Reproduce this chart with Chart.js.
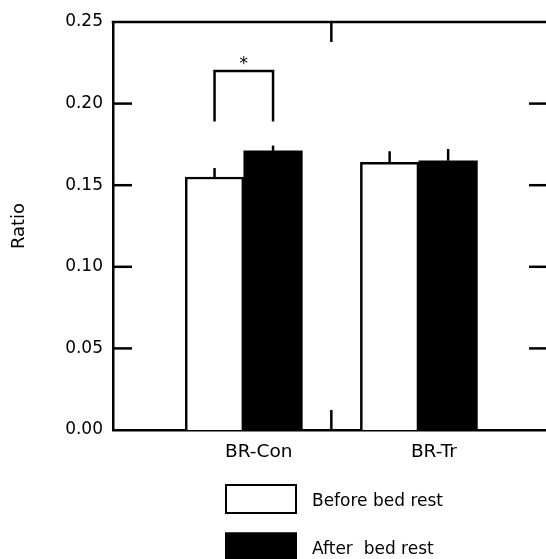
<!DOCTYPE html>
<html>
<head>
<meta charset="utf-8">
<script src="https://cdn.jsdelivr.net/npm/chart.js@4.4.1/dist/chart.umd.min.js"></script>
<style>
  html, body { margin: 0; padding: 0; background: #ffffff; }
  #wrap { width: 546px; height: 559px; position: relative; }
</style>
</head>
<body>
<div id="wrap"><canvas id="c" width="546" height="559"></canvas></div>
<script>
// ---- data ----
const categories = ['BR-Con', 'BR-Tr'];
const seriesNames = ['Before bed rest', 'After  bed rest'];
const beforeValues = [0.155, 0.164];
const afterValues = [0.171, 0.165];
const beforeErrors = [0.0055, 0.0068];
const afterErrors = [0.0033, 0.0072];
const yTickValues = [0.00, 0.05, 0.10, 0.15, 0.20, 0.25];
const yTitle = 'Ratio';
// significance bracket (BR-Con: before vs after)
const sigCategoryIndex = 0;
const sigBracketLow = 0.189;
const sigBracketHigh = 0.220;
const sigMarker = '*';
const sigMarkerValue = 0.2215;

const FONT = 'DejaVu Sans';

function toPoints(vals) { return vals.map((v, i) => ({ x: i, y: v })); }

const decorPlugin = {
  id: 'decor',
  afterDatasetsDraw(chart) {
    const { ctx, chartArea: a, scales: { x, y } } = chart;
    const line = (x1, y1, x2, y2, w) => {
      ctx.lineWidth = w || 2.5;
      ctx.beginPath(); ctx.moveTo(x1, y1); ctx.lineTo(x2, y2); ctx.stroke();
    };
    ctx.save();
    ctx.strokeStyle = '#000';
    ctx.lineCap = 'butt';
    // top frame line
    line(a.left - 1.25, a.top, a.right, a.top);
    // inward ticks left and right
    yTickValues.forEach(v => {
      if (v <= y.min || v >= y.max) return;
      const py = y.getPixelForValue(v);
      line(a.left, py, a.left + 19, py);
      line(a.right - 17, py, a.right, py);
    });
    // category divider ticks
    for (let i = 0; i < categories.length - 1; i++) {
      const px = x.getPixelForValue(i + 0.5);
      line(px, a.top, px, a.top + 20);
      line(px, a.bottom - 20, px, a.bottom);
    }
    // error bars (upper only)
    chart.data.datasets.forEach((ds, di) => {
      const meta = chart.getDatasetMeta(di);
      meta.data.forEach((bar, i) => {
        const yTop = y.getPixelForValue(ds.data[i].y + ds.errors[i]);
        line(bar.x, bar.y, bar.x, yTop);
      });
    });
    // significance bracket
    const b0 = chart.getDatasetMeta(0).data[sigCategoryIndex];
    const b1 = chart.getDatasetMeta(1).data[sigCategoryIndex];
    const yl = y.getPixelForValue(sigBracketLow);
    const yh = y.getPixelForValue(sigBracketHigh);
    ctx.lineWidth = 2.5;
    ctx.beginPath();
    ctx.moveTo(b0.x, yl); ctx.lineTo(b0.x, yh); ctx.lineTo(b1.x, yh); ctx.lineTo(b1.x, yl);
    ctx.stroke();
    ctx.fillStyle = '#000';
    ctx.font = '17px "' + FONT + '"';
    ctx.textAlign = 'center';
    ctx.textBaseline = 'alphabetic';
    ctx.fillText(sigMarker, (b0.x + b1.x) / 2, y.getPixelForValue(sigMarkerValue));
    ctx.restore();
  },
  afterDraw(chart) {
    // vertical legend below the axis
    const { ctx } = chart;
    ctx.save();
    const boxX = 225, boxW = 72, boxH = 30, textX = 312;
    const rowTop = 484, rowGap = 48.5;
    chart.data.datasets.forEach((ds, i) => {
      const top = rowTop + i * rowGap;
      ctx.fillStyle = ds.backgroundColor;
      ctx.fillRect(boxX, top, boxW, boxH);
      ctx.strokeStyle = '#000';
      ctx.lineWidth = 2;
      ctx.strokeRect(boxX + 1, top + 1, boxW - 2, boxH - 2);
      ctx.fillStyle = '#000';
      ctx.font = '17px "' + FONT + '"';
      ctx.textAlign = 'left';
      ctx.textBaseline = 'alphabetic';
      ctx.fillText(ds.label, textX, top + 21.5);
    });
    ctx.restore();
  }
};

new Chart(document.getElementById('c'), {
  type: 'bar',
  data: {
    datasets: [
      {
        label: seriesNames[0],
        data: toPoints(beforeValues),
        errors: beforeErrors,
        backgroundColor: '#ffffff',
        borderColor: '#000000',
        borderWidth: 2.5,
        barThickness: 58.5
      },
      {
        label: seriesNames[1],
        data: toPoints(afterValues),
        errors: afterErrors,
        backgroundColor: '#000000',
        borderColor: '#000000',
        borderWidth: 0,
        barThickness: 58.5
      }
    ]
  },
  options: {
    responsive: false,
    animation: false,
    devicePixelRatio: 1,
    layout: { padding: { top: 22, left: 0, right: 0, bottom: 0 } },
    plugins: { legend: { display: false }, tooltip: { enabled: false } },
    scales: {
      x: {
        type: 'linear',
        position: 'bottom',
        offset: false,
        min: -0.747,
        max: 1.726,
        grid: { display: false, drawTicks: false, offset: false },
        border: { display: true, color: '#000', width: 2.5 },
        afterBuildTicks: (scale) => { scale.ticks = categories.map((c, i) => ({ value: i })); },
        afterFit: (scale) => { scale.height = 129; },
        ticks: {
          autoSkip: false,
          maxRotation: 0,
          color: '#000',
          font: { family: FONT, size: 18.5 },
          padding: 11,
          labelOffset: 15,
          callback: (value) => categories[value]
        }
      },
      y: {
        type: 'linear',
        min: 0,
        max: 0.25,
        grid: { display: false, drawTicks: false },
        border: { display: true, color: '#000', width: 2.5 },
        afterBuildTicks: (scale) => { scale.ticks = yTickValues.map(v => ({ value: v })); },
        afterFit: (scale) => { scale.width = 113; },
        ticks: {
          color: '#000',
          font: { family: FONT, size: 17 },
          padding: 10,
          callback: (value) => Number(value).toFixed(2)
        },
        title: {
          display: true,
          text: yTitle,
          color: '#000',
          font: { family: FONT, size: 18 },
          padding: { top: 9, bottom: 0 }
        }
      }
    }
  },
  plugins: [decorPlugin]
});
</script>
</body>
</html>
